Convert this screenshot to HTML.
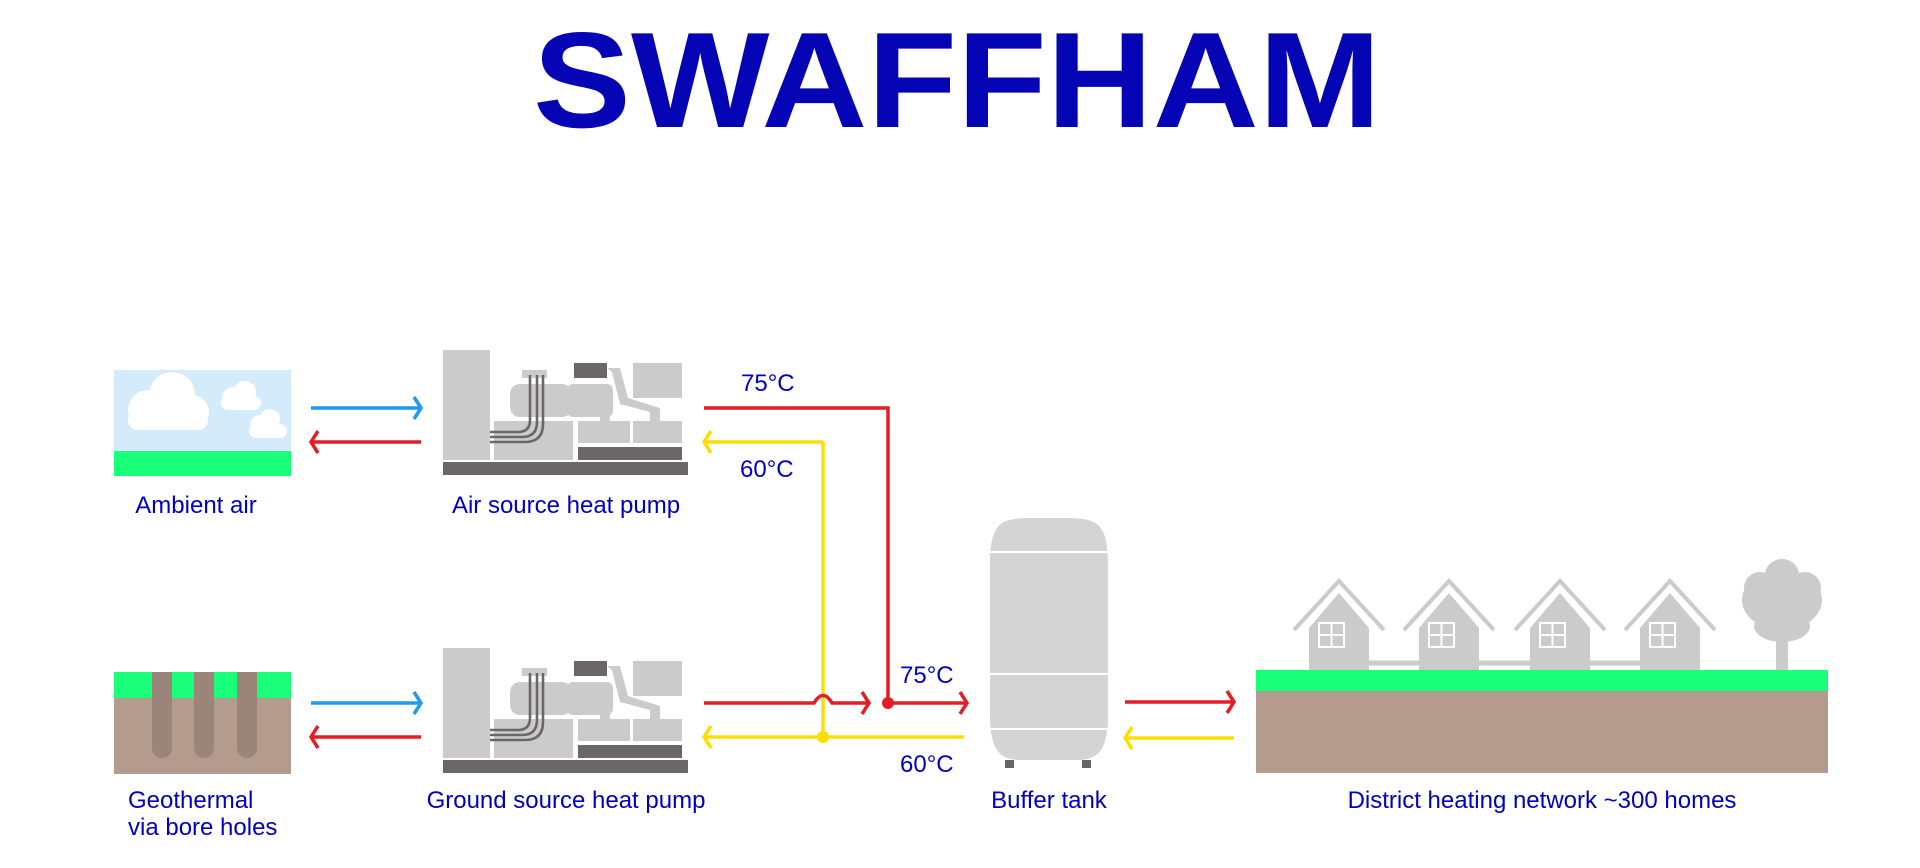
<!DOCTYPE html>
<html><head><meta charset="utf-8"><style>
html,body{margin:0;padding:0;background:#fff;}
svg{display:block;}
text{font-family:"Liberation Sans",sans-serif;fill:#0000c0;}
</style></head><body>
<svg width="1920" height="868" viewBox="0 0 1920 868" xmlns="http://www.w3.org/2000/svg">
<defs>
<g id="hp">
  <rect x="443" y="350" width="47" height="110" fill="#cbcbcb"/>
  <rect x="443" y="462" width="245" height="13" fill="#6b6769"/>
  <rect x="494" y="421" width="79" height="39" fill="#cbcbcb"/>
  <rect x="578" y="447" width="104" height="13" fill="#6b6769"/>
  <rect x="578" y="421" width="52" height="22" fill="#cbcbcb"/>
  <rect x="633" y="421" width="49" height="22" fill="#cbcbcb"/>
  <path d="M607 368 H620 L628 398 L660 408 V421 H650 V412 L620 404 L612 372 Z" fill="#cbcbcb"/>
  <rect x="633" y="363" width="49" height="35" fill="#cbcbcb"/>
  <rect x="574" y="363" width="33" height="15" fill="#6b6769"/>
  <rect x="510" y="384" width="62" height="33" rx="10" fill="#cbcbcb"/>
  <rect x="567" y="384" width="46" height="33" rx="6" fill="#cbcbcb"/>
  <rect x="600" y="410" width="10" height="12" fill="#cbcbcb"/>
  <rect x="522" y="370" width="25" height="8" fill="#cbcbcb"/>
  <path d="M530 375 V420 Q530 432 518 432 H490 M537 375 V422 Q537 437 522 437 H490 M543 375 V424 Q543 442 525 442 H490" fill="none" stroke="#6b6769" stroke-width="2.6"/>
</g>
<g id="house">
  <path d="M-45 630 L0 581 L45 630" fill="none" stroke="#cbcbcb" stroke-width="4"/>
  <path d="M-30 628 L0 593 L30 628 V670 H-30 Z" fill="#cbcbcb"/>
  <rect x="-20" y="623" width="25" height="24" fill="none" stroke="#fff" stroke-width="2"/>
  <path d="M-7.5 623 V647 M-20 635 H5" stroke="#fff" stroke-width="2"/>
</g>
</defs>

<text x="533" y="127" font-size="136" font-weight="bold" textLength="848" lengthAdjust="spacingAndGlyphs" style="fill:#0505b5">SWAFFHAM</text>

<!-- Ambient air -->
<rect x="114" y="370" width="177" height="81" fill="#d4ebfb"/>
<rect x="114" y="451" width="177" height="25" fill="#1aff7a"/>
<g fill="#fff">
  <circle cx="148" cy="410" r="20"/><circle cx="172" cy="395" r="23"/><circle cx="192" cy="412" r="17"/><rect x="128" y="410" width="80" height="20" rx="10"/>
  <circle cx="233" cy="398" r="11"/><circle cx="245" cy="392" r="11"/><rect x="221" y="396" width="40" height="14" rx="7"/>
  <circle cx="260" cy="425" r="10"/><circle cx="270" cy="419" r="10"/><rect x="249" y="424" width="38" height="14" rx="7"/>
</g>

<!-- Geothermal -->
<rect x="114" y="672" width="177" height="26" fill="#1aff7a"/>
<rect x="114" y="698" width="177" height="76" fill="#b39b8e"/>
<g fill="#9b8478">
  <rect x="152" y="672" width="20" height="86" rx="10"/><rect x="152" y="672" width="20" height="20"/>
  <rect x="194" y="672" width="20" height="86" rx="10"/><rect x="194" y="672" width="20" height="20"/>
  <rect x="237" y="672" width="20" height="86" rx="10"/><rect x="237" y="672" width="20" height="20"/>
</g>

<!-- arrows left -->
<g fill="none" stroke-width="3.5">
  <path d="M311 408 H419" stroke="#1e9bf0"/><path d="M414 397 L421 408 L414 419" stroke="#1e9bf0"/>
  <path d="M313 442 H421" stroke="#e31e24"/><path d="M318 431 L311 442 L318 453" stroke="#e31e24"/>
  <path d="M311 703 H419" stroke="#1e9bf0"/><path d="M414 692 L421 703 L414 714" stroke="#1e9bf0"/>
  <path d="M313 737 H421" stroke="#e31e24"/><path d="M318 726 L311 737 L318 748" stroke="#e31e24"/>
</g>

<use href="#hp"/>
<use href="#hp" transform="translate(0,298)"/>

<!-- pipes -->
<g fill="none" stroke-width="3.5">
  <path d="M823 442 V737" stroke="#ffdd00"/>
  <path d="M706 442 H823" stroke="#ffdd00"/><path d="M711 431 L704 442 L711 453" stroke="#ffdd00"/>
  <path d="M706 737 H964" stroke="#ffdd00"/><path d="M711 726 L704 737 L711 748" stroke="#ffdd00"/>
  <path d="M704 408 H888 V703" stroke="#e31e24"/>
  <path d="M704 703 H814 Q823 688 832 703 H867" stroke="#e31e24"/><path d="M862 692 L869 703 L862 714" stroke="#e31e24"/>
  <path d="M888 703 H965" stroke="#e31e24"/><path d="M960 692 L967 703 L960 714" stroke="#e31e24"/>
  <path d="M1125 702 H1232" stroke="#e31e24"/><path d="M1227 691 L1234 702 L1227 713" stroke="#e31e24"/>
  <path d="M1127 738 H1234" stroke="#ffdd00"/><path d="M1132 727 L1125 738 L1132 749" stroke="#ffdd00"/>
</g>
<circle cx="888" cy="703" r="6" fill="#e31e24"/>
<circle cx="823" cy="737" r="6" fill="#ffdd00"/>

<!-- buffer tank -->
<path d="M990 565 C990 515 1005 518 1049 518 C1093 518 1108 515 1108 565 V715 C1108 755 1095 760 1075 760 H1023 C1003 760 990 755 990 715 Z" fill="#d4d4d4"/>
<path d="M990 552 H1108 M990 674 H1108 M990 729 H1108" stroke="#fff" stroke-width="2"/>
<rect x="1005" y="760" width="9" height="8" fill="#666"/>
<rect x="1082" y="760" width="9" height="8" fill="#666"/>

<!-- district -->
<path d="M1320 663 H1690" stroke="#cbcbcb" stroke-width="5"/>
<use href="#house" transform="translate(1339,0)"/>
<use href="#house" transform="translate(1449,0)"/>
<use href="#house" transform="translate(1560,0)"/>
<use href="#house" transform="translate(1670,0)"/>
<g fill="#cbcbcb">
  <rect x="1776" y="620" width="12" height="52"/>
  <ellipse cx="1782" cy="575" rx="17" ry="16"/>
  <ellipse cx="1782" cy="600" rx="40" ry="30"/>
  <ellipse cx="1782" cy="626" rx="28" ry="16"/>
  <circle cx="1760" cy="588" r="16"/><circle cx="1805" cy="588" r="16"/>
</g>
<rect x="1256" y="670" width="572" height="21" fill="#1aff7a"/>
<rect x="1256" y="691" width="572" height="82" fill="#b39b8e"/>

<!-- labels -->
<g font-size="24">
  <text x="196" y="513" text-anchor="middle">Ambient air</text>
  <text x="566" y="513" text-anchor="middle">Air source heat pump</text>
  <text x="128" y="808">Geothermal</text>
  <text x="128" y="835">via bore holes</text>
  <text x="566" y="808" text-anchor="middle">Ground source heat pump</text>
  <text x="1049" y="808" text-anchor="middle">Buffer tank</text>
  <text x="1542" y="808" text-anchor="middle">District heating network ~300 homes</text>
  <text x="741" y="391">75°C</text>
  <text x="740" y="477">60°C</text>
  <text x="900" y="683">75°C</text>
  <text x="900" y="772">60°C</text>
</g>
</svg>
</body></html>
